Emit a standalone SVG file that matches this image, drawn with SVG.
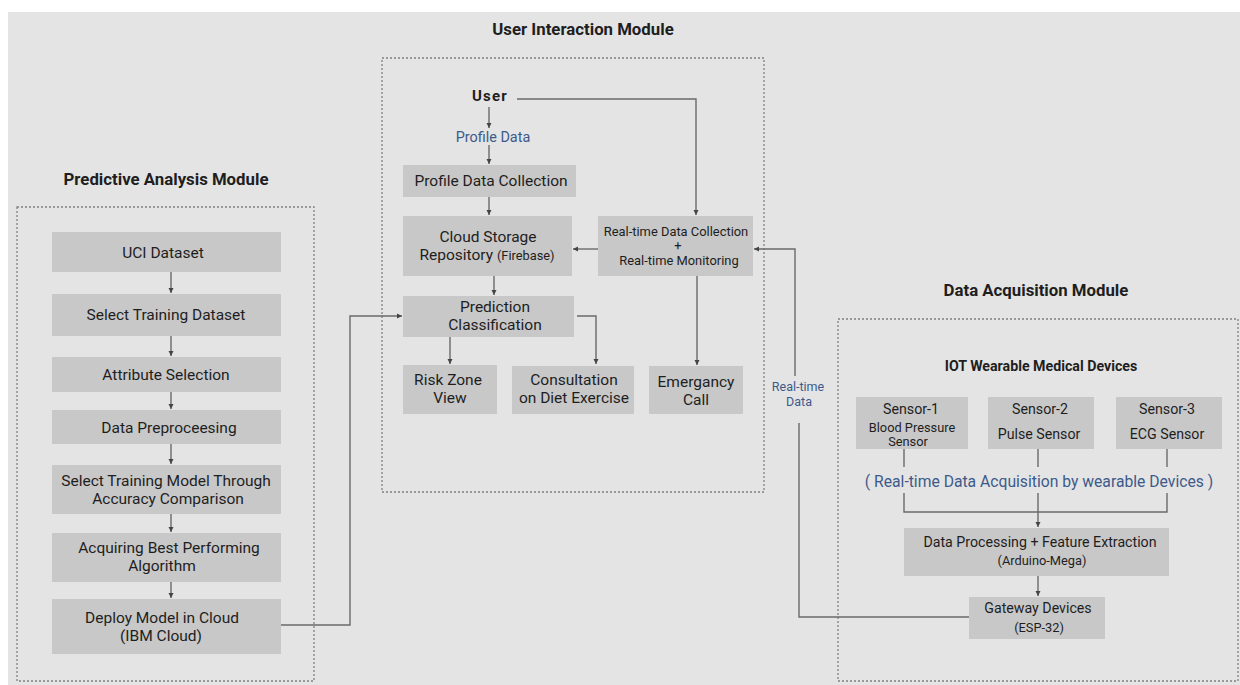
<svg xmlns="http://www.w3.org/2000/svg" width="1240" height="685" viewBox="0 0 1240 685">
<style>
text{font-family:Roboto,"Liberation Sans",Arial,sans-serif;fill:#1e1e1e;text-anchor:middle}
.title{font-size:16.8px;font-weight:bold}
.box{fill:#c8c8c8}
.t14{font-size:15.5px}
.t13{font-size:14.2px}
.t11{font-size:12.8px}
.blue{fill:#3d5a8a}
.frame{fill:none;stroke:#808080;stroke-width:1.3;stroke-dasharray:2 2}
.c{fill:none;stroke:#6a6a6a;stroke-width:1.4}
.a{marker-end:url(#ah)}
</style>
<defs>
<marker id="ah" markerWidth="6" markerHeight="6" refX="5" refY="3" orient="auto" markerUnits="userSpaceOnUse">
<path d="M0,0.5 L5,3 L0,5.5 Z" fill="#444"/>
</marker>
</defs>
<rect x="0" y="0" width="1240" height="685" fill="#ffffff"/>
<rect x="8" y="12" width="1232" height="673" fill="#e4e4e4"/>

<g id="titles">
<text class="title" x="166" y="185">Predictive Analysis Module</text>
<text class="title" x="583" y="35">User Interaction Module</text>
<text class="title" x="1036" y="296">Data Acquisition Module</text>
</g>

<g id="frames">
<rect class="frame" x="17" y="207" width="297" height="474"/>
<rect class="frame" x="382" y="58" width="382" height="434"/>
<rect class="frame" x="838" y="319" width="400" height="362"/>
</g>

<g id="connectors">
<path class="c a" d="M171,272 V293"/>
<path class="c a" d="M171,336 V356"/>
<path class="c a" d="M171,392 V409"/>
<path class="c a" d="M171,444 V464"/>
<path class="c a" d="M171,514 V532"/>
<path class="c a" d="M171,582 V598"/>
<path class="c a" d="M281,625 H350 V316 H402"/>
<path class="c a" d="M489,107 V128"/>
<path class="c a" d="M489,145 V164"/>
<path class="c a" d="M517,99 H696 V215"/>
<path class="c a" d="M489,197 V215"/>
<path class="c a" d="M598,249 H573"/>
<path class="c a" d="M494,276 V295"/>
<path class="c a" d="M450,337 V364"/>
<path class="c a" d="M577,316 H596 V364"/>
<path class="c a" d="M697,276 V365"/>
<path class="c a" d="M795,376 V249 H754"/>
<path class="c" d="M969,617 H799 V423"/>
<path class="c" d="M904,449 V467"/>
<path class="c" d="M1038,449 V467"/>
<path class="c" d="M1167,449 V467"/>
<path class="c" d="M904,493 V512 H1167 V493"/>
<path class="c a" d="M1038,493 V527"/>
<path class="c a" d="M1038,576 V596"/>
</g>

<g id="labels">
<text class="blue" x="493" y="142" font-size="14.4">Profile Data</text>
<text class="blue" x="798" y="391" font-size="12.5">Real-time</text>
<text class="blue" x="799" y="406" font-size="12.5">Data</text>
<text class="blue" x="1039" y="487" font-size="15.7">( Real-time Data Acquisition by wearable Devices )</text>
<text x="1041" y="371" font-size="14.2" font-weight="bold">IOT Wearable Medical Devices</text>
</g>

<g id="uci"><rect class="box" x="52" y="232" width="229" height="40"/><text class="t14" x="163" y="258">UCI Dataset</text></g>
<g id="select-dataset"><rect class="box" x="52" y="294" width="229" height="42"/><text class="t14" x="166" y="320">Select Training Dataset</text></g>
<g id="attribute"><rect class="box" x="52" y="357" width="229" height="35"/><text class="t14" x="166" y="380">Attribute Selection</text></g>
<g id="preprocess"><rect class="box" x="52" y="410" width="229" height="34"/><text class="t14" x="169" y="433">Data Preproceesing</text></g>
<g id="select-model"><rect class="box" x="52" y="465" width="229" height="49"/><text class="t14" x="166" y="486">Select Training Model Through</text><text class="t14" x="168" y="504">Accuracy Comparison</text></g>
<g id="acquiring"><rect class="box" x="52" y="533" width="229" height="49"/><text class="t14" x="169" y="553">Acquiring Best Performing</text><text class="t14" x="162" y="571">Algorithm</text></g>
<g id="deploy"><rect class="box" x="52" y="599" width="229" height="55"/><text class="t14" x="162" y="623">Deploy Model in Cloud</text><text class="t14" x="161" y="641">(IBM Cloud)</text></g>

<g id="user"><text x="490" y="101" font-size="15" font-weight="bold" letter-spacing="1.2">User</text></g>
<g id="profile-collection"><rect class="box" x="403" y="165" width="173" height="32"/><text class="t14" x="491" y="186">Profile Data Collection</text></g>
<g id="cloud-storage"><rect class="box" x="403" y="216" width="169" height="60"/><text class="t14" x="488" y="242">Cloud Storage</text><text x="487" y="260"><tspan class="t14">Repository </tspan><tspan font-size="12.8px">(Firebase)</tspan></text></g>
<g id="realtime"><rect class="box" x="598" y="216" width="155" height="60"/><text x="676" y="236" font-size="12.9">Real-time Data Collection</text><text x="678" y="250" font-size="12.9">+</text><text x="679" y="265" font-size="12.9">Real-time Monitoring</text></g>
<g id="prediction"><rect class="box" x="403" y="296" width="171" height="41"/><text class="t14" x="495" y="312">Prediction</text><text class="t14" x="495" y="330">Classification</text></g>
<g id="risk"><rect class="box" x="403" y="365" width="94" height="49"/><text class="t14" x="448" y="385">Risk Zone</text><text class="t14" x="450" y="403">View</text></g>
<g id="consult"><rect class="box" x="512" y="366" width="122" height="48"/><text class="t14" x="574" y="385">Consultation</text><text class="t14" x="574" y="403">on Diet Exercise</text></g>
<g id="emergency"><rect class="box" x="649" y="366" width="94" height="48"/><text class="t14" x="696" y="387">Emergancy</text><text class="t14" x="696" y="405">Call</text></g>

<g id="sensor1"><rect class="box" x="856" y="397" width="112" height="52"/><text class="t13" x="911" y="414">Sensor-1</text><text class="t11" x="912" y="432">Blood Pressure</text><text class="t11" x="908" y="446">Sensor</text></g>
<g id="sensor2"><rect class="box" x="988" y="397" width="106" height="52"/><text class="t13" x="1040" y="414">Sensor-2</text><text class="t13" x="1039" y="439">Pulse Sensor</text></g>
<g id="sensor3"><rect class="box" x="1116" y="397" width="106" height="52"/><text class="t13" x="1167" y="414">Sensor-3</text><text class="t13" x="1167" y="439">ECG Sensor</text></g>
<g id="processing"><rect class="box" x="904" y="528" width="265" height="48"/><text class="t13" x="1040" y="547">Data Processing + Feature Extraction</text><text class="t11" x="1042" y="565">(Arduino-Mega)</text></g>
<g id="gateway"><rect class="box" x="969" y="597" width="136" height="42"/><text class="t13" x="1038" y="613">Gateway Devices</text><text class="t11" x="1039" y="632">(ESP-32)</text></g>
</svg>
